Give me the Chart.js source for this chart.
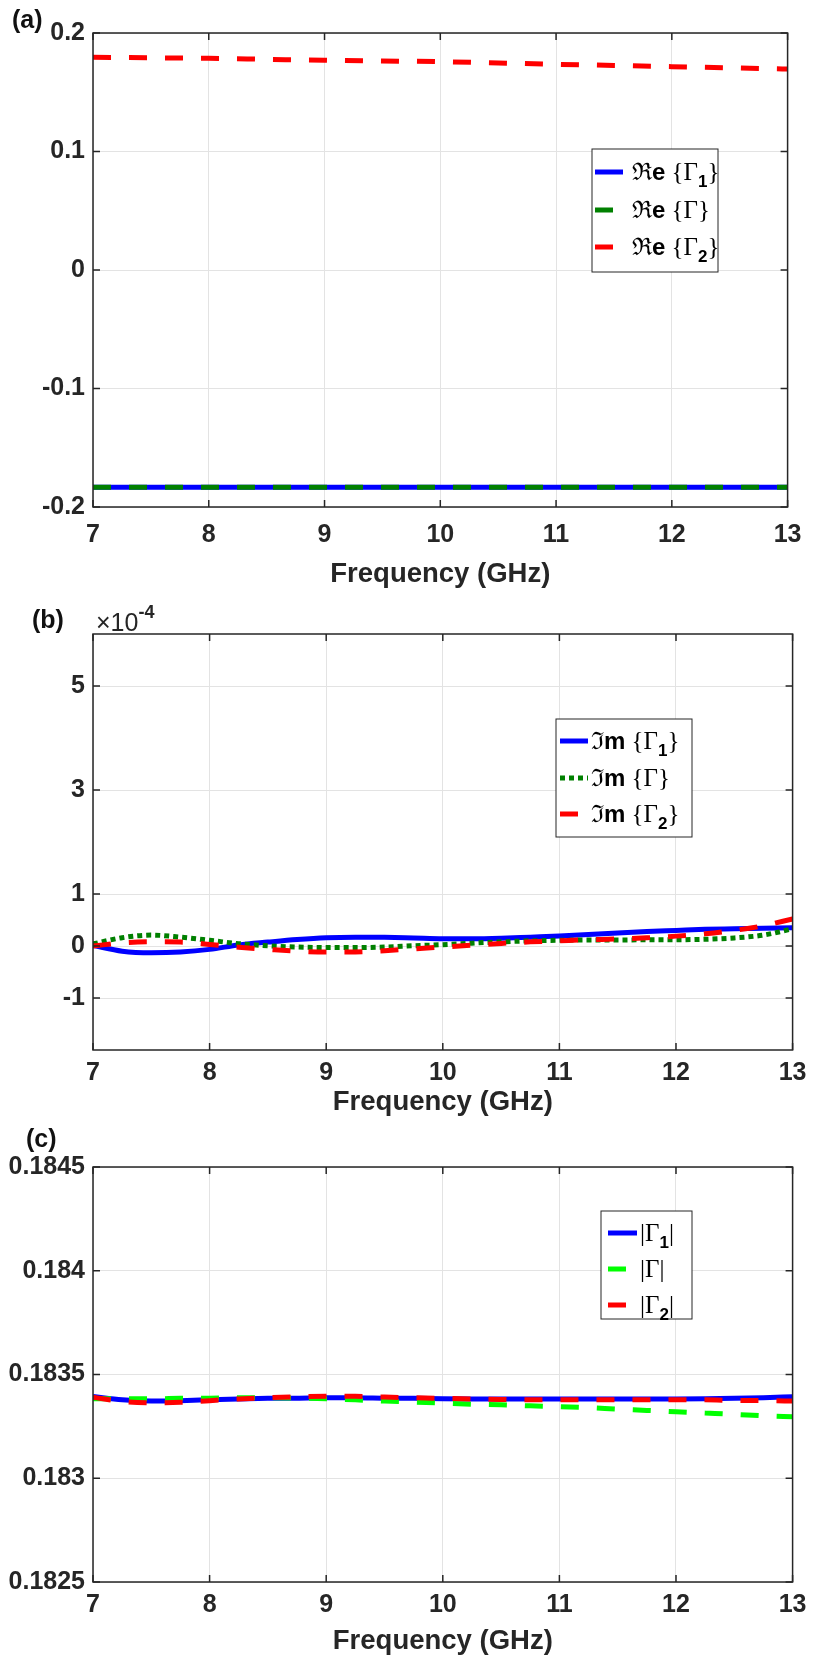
<!DOCTYPE html>
<html>
<head>
<meta charset="utf-8">
<script src="https://cdn.jsdelivr.net/npm/chart.js@4.4.1/dist/chart.umd.min.js"></script>
<style>
  body { margin: 0; background: #fff; width: 817px; height: 1658px; position: relative; overflow: hidden; }
  canvas { position: absolute; left: 0; }
</style>
</head>
<body>
<canvas id="chartA" width="817" height="600" style="top:0px"></canvas>
<canvas id="chartB" width="817" height="520" style="top:600px"></canvas>
<canvas id="chartC" width="817" height="538" style="top:1120px"></canvas>
<script>
// frequency axes (GHz)
const freq = [7, 7.25, 7.5, 7.75, 8, 8.25, 8.5, 8.75, 9, 9.25, 9.5, 9.75, 10, 10.25, 10.5, 10.75, 11, 11.25, 11.5, 11.75, 12, 12.25, 12.5, 12.75, 13];
const freqA = [7, 7.5, 8, 8.5, 9, 9.5, 10, 10.5, 11, 11.5, 12, 12.5, 13];
const xTicks = [7, 8, 9, 10, 11, 12, 13];

// (a) real parts
const reGamma1 = [-0.1834, -0.1834, -0.1834, -0.1834, -0.1834, -0.1834, -0.1834, -0.1834, -0.1834, -0.1834, -0.1834, -0.1834, -0.1834];
const reGamma = [-0.1834, -0.1834, -0.1834, -0.1834, -0.1834, -0.1834, -0.1834, -0.1834, -0.1834, -0.1834, -0.1834, -0.1834, -0.1834];
const reGamma2 = [0.1795, 0.1791, 0.1786, 0.1778, 0.1770, 0.1764, 0.1758, 0.1747, 0.1736, 0.1726, 0.1716, 0.1706, 0.1696];
const yTicksA = [-0.2, -0.1, 0, 0.1, 0.2];
const yLabelsA = ["-0.2", "-0.1", "0", "0.1", "0.2"];

// (b) imaginary parts, in units of 1e-4
const imGamma1 = [0.01, -0.10, -0.13, -0.115, -0.065, 0.02, 0.075, 0.125, 0.16, 0.17, 0.167, 0.154, 0.14, 0.14, 0.15, 0.17, 0.19, 0.22, 0.25, 0.28, 0.30, 0.32, 0.33, 0.34, 0.35];
const imGamma = [0.04, 0.16, 0.21, 0.17, 0.11, 0.045, 0.005, -0.02, -0.03, -0.03, -0.02, 0.005, 0.026, 0.055, 0.08, 0.10, 0.11, 0.115, 0.115, 0.12, 0.12, 0.13, 0.155, 0.21, 0.33];
const imGamma2 = [0, 0.06, 0.08, 0.075, 0.03, -0.025, -0.065, -0.10, -0.115, -0.115, -0.09, -0.055, -0.02, 0.015, 0.05, 0.08, 0.10, 0.12, 0.135, 0.158, 0.19, 0.235, 0.30, 0.39, 0.52];
const yTicksB = [-1, 0, 1, 3, 5];
const yLabelsB = ["-1", "0", "1", "3", "5"];

// (c) magnitudes
const magGamma1 = [0.183394, 0.183378, 0.183372, 0.183374, 0.183378, 0.183382, 0.183385, 0.183386, 0.183388, 0.183388, 0.183386, 0.183385, 0.183383, 0.183382, 0.183382, 0.183382, 0.183382, 0.183382, 0.183382, 0.183382, 0.183382, 0.183383, 0.183385, 0.183388, 0.183393];
const magGamma = [0.183383, 0.183383, 0.183383, 0.183385, 0.183386, 0.183388, 0.183388, 0.183386, 0.183383, 0.183378, 0.183372, 0.183367, 0.183362, 0.183357, 0.183354, 0.183349, 0.183345, 0.183340, 0.183333, 0.183327, 0.183320, 0.183314, 0.183308, 0.183301, 0.183296];
const magGamma2 = [0.183391, 0.183370, 0.183364, 0.183366, 0.183374, 0.183382, 0.183388, 0.183393, 0.183395, 0.183395, 0.183391, 0.183388, 0.183385, 0.183382, 0.183380, 0.183378, 0.183378, 0.183378, 0.183378, 0.183378, 0.183378, 0.183378, 0.183375, 0.183374, 0.183372];
const yTicksC = [0.1825, 0.183, 0.1835, 0.184, 0.1845];
const yLabelsC = ["0.1825", "0.183", "0.1835", "0.184", "0.1845"];

const AXIS = "#262626";
const GRID = "#e3e3e3";
const SANS = '"Liberation Sans", Arial, sans-serif';
const SERIF = '"Liberation Serif", "Times New Roman", serif';

const pts = (xs, ys) => xs.map((x, i) => ({ x: x, y: ys[i] }));

// legend label pieces: symbol + letter, then {Γ_sub} or |Γ_sub|
function cplxLabel(sym, letter, sub) {
  const p = [
    { t: sym, f: '24px "DejaVu Serif", serif' },
    { t: letter, f: "bold 24px " + SANS },
    { t: " {\u0393", f: "25px " + SERIF },
  ];
  if (sub) p.push({ t: sub, f: "bold 17px " + SANS, dy: 7 });
  p.push({ t: "}", f: "25px " + SERIF });
  return p;
}
function absLabel(sub) {
  const p = [{ t: "|\u0393", f: "25px " + SERIF }];
  if (sub) p.push({ t: sub, f: "bold 17px " + SANS, dy: 7 });
  p.push({ t: "|", f: "25px " + SERIF });
  return p;
}

function drawParts(ctx, parts, x, y) {
  ctx.textAlign = "left";
  ctx.textBaseline = "alphabetic";
  ctx.fillStyle = "#000";
  parts.forEach((p) => {
    ctx.font = p.f;
    ctx.fillText(p.t, x, y + (p.dy || 0));
    x += ctx.measureText(p.t).width;
  });
}

// matlab-like box, inward ticks, legend and panel labels
const matlabBox = {
  id: "matlabBox",
  afterDraw(chart, args, o) {
    const ctx = chart.ctx;
    const { left, right, top, bottom } = chart.chartArea;
    ctx.save();
    ctx.strokeStyle = AXIS;
    ctx.lineWidth = 1.5;
    ctx.strokeRect(left, top, right - left, bottom - top);
    ctx.beginPath();
    chart.scales.x.ticks.forEach((t) => {
      const px = chart.scales.x.getPixelForValue(t.value);
      ctx.moveTo(px, bottom); ctx.lineTo(px, bottom - 7);
      ctx.moveTo(px, top); ctx.lineTo(px, top + 7);
    });
    chart.scales.y.ticks.forEach((t) => {
      const py = chart.scales.y.getPixelForValue(t.value);
      ctx.moveTo(left, py); ctx.lineTo(left + 7, py);
      ctx.moveTo(right, py); ctx.lineTo(right - 7, py);
    });
    ctx.stroke();

    // legend
    const lg = o.legend;
    ctx.fillStyle = "#fff";
    ctx.fillRect(lg.x, lg.y, lg.w, lg.h);
    ctx.strokeStyle = AXIS;
    ctx.lineWidth = 1;
    ctx.strokeRect(lg.x, lg.y, lg.w, lg.h);
    lg.rows.forEach((r, i) => {
      const ds = chart.data.datasets[i];
      ctx.save();
      ctx.strokeStyle = ds.borderColor;
      ctx.lineWidth = ds.borderWidth;
      ctx.setLineDash(ds.borderDash || []);
      ctx.beginPath();
      ctx.moveTo(lg.sampleX, r.y);
      ctx.lineTo(lg.sampleX + lg.sampleLen, r.y);
      ctx.stroke();
      ctx.restore();
      drawParts(ctx, r.parts, lg.textX, r.y + 8);
    });

    // panel label
    ctx.fillStyle = "#111";
    ctx.font = "bold 25px " + SANS;
    ctx.textAlign = "left";
    ctx.textBaseline = "middle";
    ctx.fillText(o.panel.text, o.panel.x, o.panel.y);
    if (o.exponent) {
      ctx.fillStyle = AXIS;
      ctx.font = "25px " + SANS;
      ctx.fillText("\u00d710", o.exponent.x, o.exponent.y);
      const w = ctx.measureText("\u00d710").width;
      ctx.font = "bold 18px " + SANS;
      ctx.fillText("-4", o.exponent.x + w, o.exponent.y - 11);
    }
    ctx.restore();
  },
};

function makeChart(id, p) {
  return new Chart(document.getElementById(id).getContext("2d"), {
    type: "line",
    data: { datasets: p.datasets },
    options: {
      responsive: false,
      animation: false,
      devicePixelRatio: 1,
      layout: { padding: { top: p.top, right: 20, left: 0, bottom: 0 } },
      elements: { point: { radius: 0 }, line: { cubicInterpolationMode: "monotone" } },
      scales: {
        x: {
          type: "linear",
          min: 7,
          max: 13,
          afterBuildTicks: (s) => { s.ticks = xTicks.map((v) => ({ value: v })); },
          afterFit: (s) => { s.height = p.xAxisH; },
          grid: { color: GRID, lineWidth: 1, drawTicks: false },
          border: { display: false },
          ticks: {
            autoSkip: false,
            maxRotation: 0,
            padding: p.tickPad,
            color: AXIS,
            font: { family: SANS, size: 25, weight: "bold", lineHeight: 1 },
          },
          title: {
            display: true,
            text: "Frequency (GHz)",
            color: AXIS,
            padding: { top: 0, bottom: p.titlePad },
            font: { family: SANS, size: 27.5, weight: "bold", lineHeight: 1 },
          },
        },
        y: {
          min: p.yMin,
          max: p.yMax,
          afterBuildTicks: (s) => { s.ticks = p.yTicks.map((v) => ({ value: v })); },
          afterFit: (s) => { s.width = 93; },
          grid: { color: GRID, lineWidth: 1, drawTicks: false },
          border: { display: false },
          ticks: {
            autoSkip: false,
            padding: 8,
            color: AXIS,
            font: { family: SANS, size: 25, weight: "bold", lineHeight: 1 },
            callback: (v, i) => p.yLabels[i],
          },
        },
      },
      plugins: {
        legend: { display: false },
        tooltip: { enabled: false },
        matlabBox: p.box,
      },
    },
    plugins: [matlabBox],
  });
}

makeChart("chartA", {
  top: 33, xAxisH: 93, tickPad: 15.5, titlePad: 11.5,
  yMin: -0.2, yMax: 0.2, yTicks: yTicksA, yLabels: yLabelsA,
  datasets: [
    { label: "Re{Γ1}", data: pts(freqA, reGamma1), borderColor: "#0000ff", borderWidth: 5, order: 3 },
    { label: "Re{Γ}", data: pts(freqA, reGamma), borderColor: "#008000", borderWidth: 5, borderDash: [18, 18], order: 2 },
    { label: "Re{Γ2}", data: pts(freqA, reGamma2), borderColor: "#ff0000", borderWidth: 5, borderDash: [18, 18], order: 1 },
  ],
  box: {
    panel: { text: "(a)", x: 12, y: 21 },
    legend: {
      x: 592, y: 149, w: 126, h: 123, sampleX: 595, sampleLen: 28, textX: 632,
      rows: [
        { y: 172, parts: cplxLabel("\u211c", "e", "1") },
        { y: 210, parts: cplxLabel("\u211c", "e", "") },
        { y: 247, parts: cplxLabel("\u211c", "e", "2") },
      ],
    },
  },
});

makeChart("chartB", {
  top: 34, xAxisH: 70, tickPad: 10.5, titlePad: 3.5,
  yMin: -2, yMax: 6, yTicks: yTicksB, yLabels: yLabelsB,
  datasets: [
    { label: "Im{Γ1}", data: pts(freq, imGamma1), borderColor: "#0000ff", borderWidth: 5, order: 3 },
    { label: "Im{Γ}", data: pts(freq, imGamma), borderColor: "#008000", borderWidth: 5, borderDash: [5, 4], order: 2 },
    { label: "Im{Γ2}", data: pts(freq, imGamma2), borderColor: "#ff0000", borderWidth: 5, borderDash: [18, 18], order: 1 },
  ],
  box: {
    panel: { text: "(b)", x: 32, y: 21 },
    exponent: { x: 96, y: 24 },
    legend: {
      x: 556, y: 119, w: 136, h: 118, sampleX: 560, sampleLen: 28, textX: 591,
      rows: [
        { y: 141, parts: cplxLabel("\u2111", "m", "1") },
        { y: 178, parts: cplxLabel("\u2111", "m", "") },
        { y: 214, parts: cplxLabel("\u2111", "m", "2") },
      ],
    },
  },
});

makeChart("chartC", {
  top: 47, xAxisH: 76, tickPad: 10.5, titlePad: 2.5,
  yMin: 0.1825, yMax: 0.1845, yTicks: yTicksC, yLabels: yLabelsC,
  datasets: [
    { label: "|Γ1|", data: pts(freq, magGamma1), borderColor: "#0000ff", borderWidth: 5, order: 3 },
    { label: "|Γ|", data: pts(freq, magGamma), borderColor: "#00ff00", borderWidth: 5, borderDash: [18, 18], order: 2 },
    { label: "|Γ2|", data: pts(freq, magGamma2), borderColor: "#ff0000", borderWidth: 5, borderDash: [18, 18], order: 1 },
  ],
  box: {
    panel: { text: "(c)", x: 26, y: 20 },
    legend: {
      x: 601, y: 91, w: 91, h: 108, sampleX: 608, sampleLen: 29, textX: 640,
      rows: [
        { y: 113, parts: absLabel("1") },
        { y: 149, parts: absLabel("") },
        { y: 185, parts: absLabel("2") },
      ],
    },
  },
});
</script>
</body>
</html>
